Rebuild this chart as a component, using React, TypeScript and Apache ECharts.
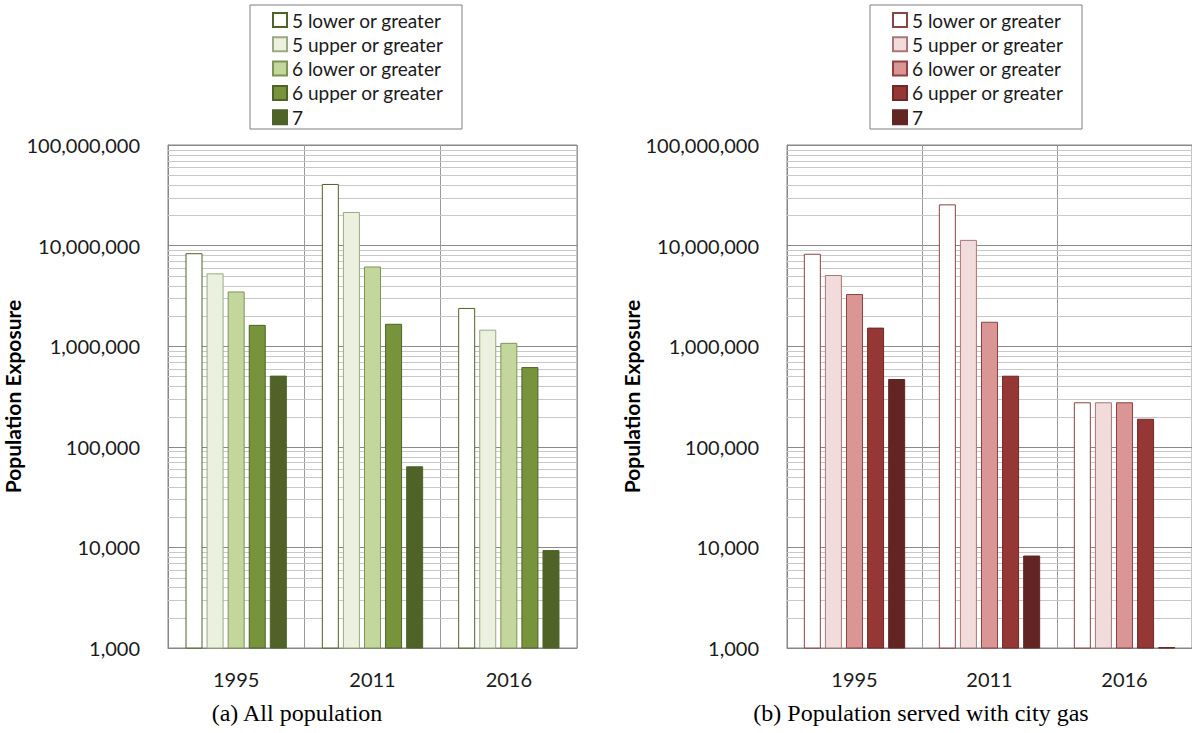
import React, { useEffect, useRef } from "react";
import * as echarts from "echarts";

const categories = ["1995", "2011", "2016"];
const seriesNames = [
  "5 lower or greater",
  "5 upper or greater",
  "6 lower or greater",
  "6 upper or greater",
  "7",
];
const yTickLabels = ["1,000", "10,000", "100,000", "1,000,000", "10,000,000", "100,000,000"];

// (a) All population
const allLower5 = [8400000, 41000000, 2400000];
const allUpper5 = [5300000, 21600000, 1460000];
const allLower6 = [3500000, 6200000, 1080000];
const allUpper6 = [1630000, 1670000, 620000];
const all7 = [510000, 64000, 9400];

// (b) Population served with city gas
const gasLower5 = [8300000, 25700000, 277000];
const gasUpper5 = [5100000, 11400000, 277000];
const gasLower6 = [3300000, 1750000, 277000];
const gasUpper6 = [1530000, 509000, 190000];
const gas7 = [472000, 8300, 1020];

const greenFill = ["#ffffff", "#ebf1de", "#c3d69b", "#77933c", "#4f6228"];
const greenBorder = ["#4f6228", "#9aa982", "#7d9457", "#4f6228", "#4f6228"];
const redFill = ["#ffffff", "#f2dcdb", "#d99694", "#953735", "#632523"];
const redBorder = ["#8a4444", "#a87676", "#8f4040", "#6e2828", "#632523"];

const minorFactors = [2, 3, 4, 5, 6, 7, 8, 9];
const decades = [1000, 10000, 100000, 1000000, 10000000];

function makeOption(cfg: {
  data: number[][];
  fills: string[];
  borders: string[];
  gridLeft: number;
  gridWidth: number;
  legendLeft: number;
  boxLeft: number;
  caption: string;
  captionX: number;
  nameGap: number;
}) {
  const minorTicks: number[][] = [];
  decades.forEach((d) => minorFactors.forEach((f) => minorTicks.push([0, d * f])));
  const labelFont = "Lato, 'Open Sans', sans-serif";
  return {
    animation: false,
    grid: {
      left: cfg.gridLeft,
      top: 145,
      width: cfg.gridWidth,
      height: 503,
      show: true,
      borderColor: "#868686",
      borderWidth: 1,
      backgroundColor: "transparent",
    },
    legend: {
      orient: "vertical",
      left: cfg.legendLeft,
      top: 10,
      padding: 0,
      itemWidth: 14,
      itemHeight: 14,
      itemGap: 4.3,
      icon: "rect",
      data: seriesNames,
      textStyle: { fontFamily: labelFont, fontSize: 19, color: "#1a1a1a", lineHeight: 20 },
      selectedMode: false,
    },
    xAxis: {
      type: "category",
      data: categories,
      boundaryGap: true,
      axisTick: { show: false },
      axisLine: { lineStyle: { color: "#868686" } },
      axisLabel: { fontFamily: labelFont, fontSize: 20, color: "#1a1a1a", margin: 21 },
      splitLine: { show: true, interval: 0, lineStyle: { color: "#9a9a9a", width: 1 } },
    },
    yAxis: {
      type: "log",
      logBase: 10,
      min: 1000,
      max: 100000000,
      name: "Population Exposure",
      nameLocation: "middle",
      nameGap: cfg.nameGap,
      nameTextStyle: { fontFamily: labelFont, fontSize: 21, fontWeight: "bold", color: "#000" },
      axisLine: { show: true, lineStyle: { color: "#868686" } },
      axisTick: { show: false },
      axisLabel: {
        fontFamily: labelFont,
        fontSize: 20,
        color: "#1a1a1a",
        margin: 28,
        formatter: (v: number) => {
          const idx = Math.round(Math.log10(v)) - 3;
          return yTickLabels[idx] ?? "";
        },
      },
      splitLine: { show: true, lineStyle: { color: "#8a8a8a", width: 1 } },
    },
    graphic: [
      {
        type: "rect",
        shape: { x: cfg.boxLeft, y: 5, width: 212, height: 124 },
        style: { fill: "transparent", stroke: "#7f7f7f", lineWidth: 1 },
        silent: true,
      },
      {
        type: "text",
        x: cfg.captionX,
        y: 713,
        style: {
          text: cfg.caption,
          font: "24px 'Liberation Serif', 'Times New Roman', serif",
          fill: "#000",
          align: "center",
          verticalAlign: "middle",
        },
      },
    ],
    series: [
      {
        type: "custom",
        silent: true,
        z: 1,
        data: minorTicks,
        encode: { x: 0, y: 1 },
        renderItem: (params: any, api: any) => {
          const y = Math.round(api.coord([0, api.value(1)])[1]) + 0.5;
          const cs = params.coordSys;
          return {
            type: "line",
            shape: { x1: cs.x, y1: y, x2: cs.x + cs.width, y2: y },
            style: { stroke: "#c8c8c8", lineWidth: 1 },
          };
        },
      },
      ...seriesNames.map((name, i) => ({
        type: "bar",
        name,
        z: 3,
        barWidth: 17,
        barGap: "24%",
        data: cfg.data[i],
        itemStyle: { color: cfg.fills[i], borderColor: cfg.borders[i], borderWidth: 1 },
      })),
    ],
  };
}

function Panel({ option }: { option: any }) {
  const ref = useRef<HTMLDivElement>(null);
  useEffect(() => {
    if (!ref.current) return;
    const chart = echarts.init(ref.current, undefined, { renderer: "svg" });
    chart.setOption(option);
    return () => chart.dispose();
  }, [option]);
  return (
    <div
      ref={ref}
      style={{ position: "absolute", left: 0, top: 0, width: 1192, height: 733 }}
    />
  );
}

const leftOption = makeOption({
  data: [allLower5, allUpper5, allLower6, allUpper6, all7],
  fills: greenFill,
  borders: greenBorder,
  gridLeft: 168,
  gridWidth: 409,
  legendLeft: 272,
  boxLeft: 250,
  caption: "(a) All population",
  captionX: 297,
  nameGap: 136,
});

const rightOption = makeOption({
  data: [gasLower5, gasUpper5, gasLower6, gasUpper6, gas7],
  fills: redFill,
  borders: redBorder,
  gridLeft: 787,
  gridWidth: 408,
  legendLeft: 892,
  boxLeft: 870,
  caption: "(b) Population served with city gas",
  captionX: 921,
  nameGap: 139,
});

export default function App() {
  return (
    <div
      style={{
        position: "absolute",
        left: 0,
        top: 0,
        width: 1192,
        height: 733,
        background: "#fff",
        overflow: "hidden",
      }}
    >
      <Panel option={leftOption} />
      <Panel option={rightOption} />
    </div>
  );
}
